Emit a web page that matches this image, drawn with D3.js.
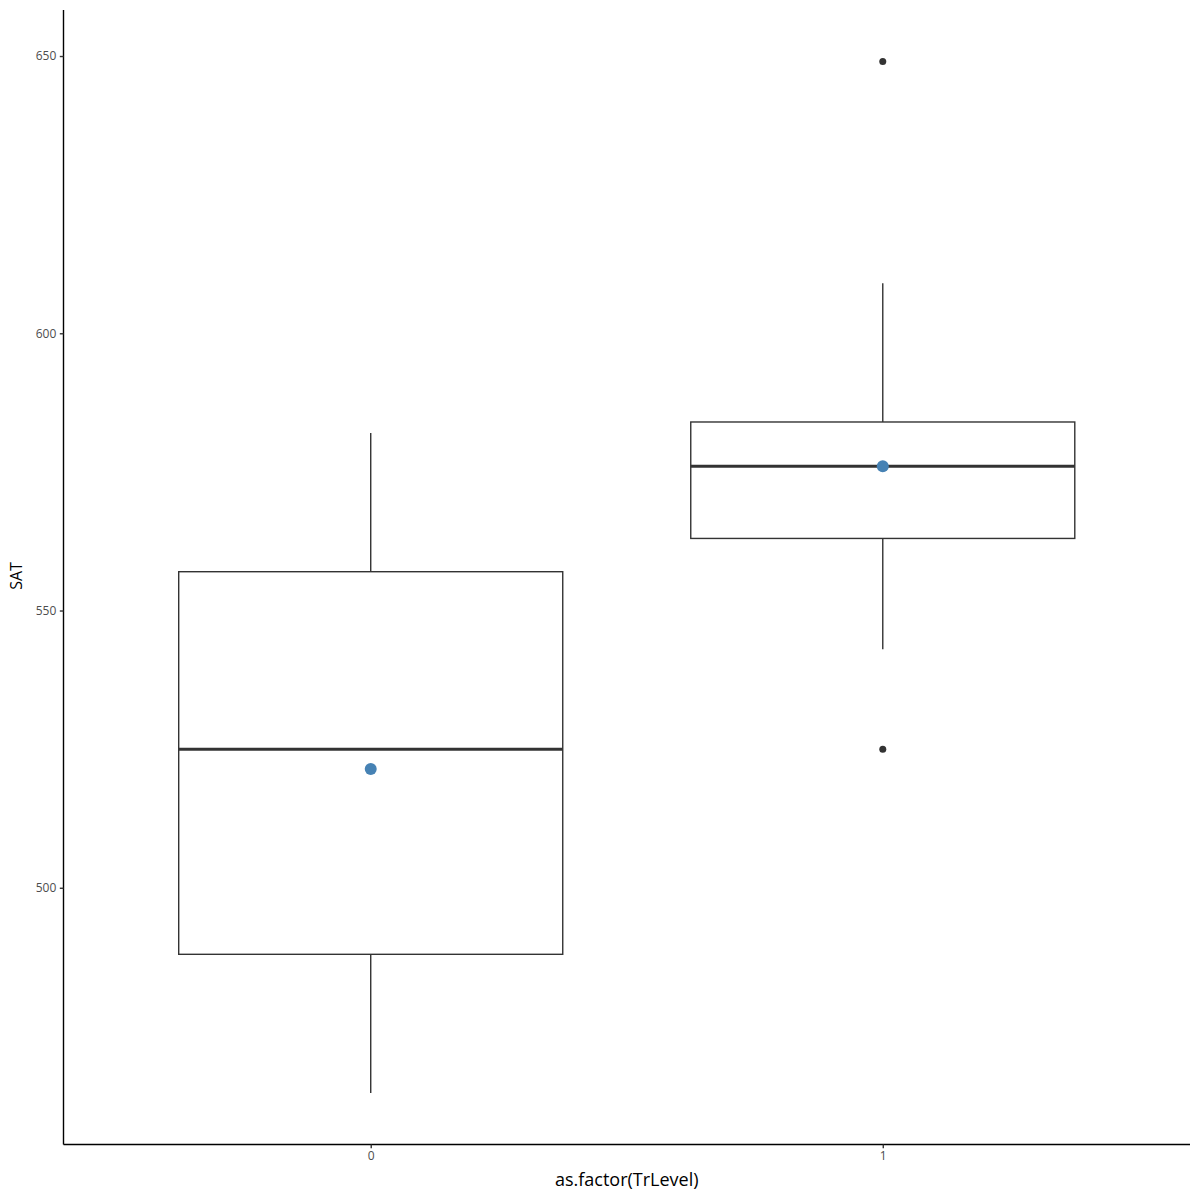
<!DOCTYPE html>
<html><head><meta charset="utf-8">
<script src="https://cdn.jsdelivr.net/npm/d3@7"></script>
<style>body{margin:0;background:#fff}</style>
</head><body>
<svg id="c" width="1200" height="1200"></svg>
<script>
const categories = ["0", "1"];
const lowerWhisker = [463, 543];
const q1 = [488, 563];
const medians = [525, 576];
const q3 = [557, 584];
const upperWhisker = [582, 609];
const means = [521.4, 576];
const outliers = [[], [649, 525]];
const yTicks = [500, 550, 600, 650];

(function () {
const svg = d3.select("#c");
const pLeft = 63.5, pRight = 1190, pTop = 10, pBottom = 1144.5;
const font = "'Open Sans', 'Noto Sans', sans-serif";

const y = d3.scaleLinear().domain([453.7, 658.3]).range([pBottom, pTop]);
const xUnit = d3.scaleLinear().domain([0.4, 2.6]).range([pLeft, pRight]);
const x = c => xUnit(categories.indexOf(c) + 1);
const halfW = (xUnit(1.375) - xUnit(1));

const g = svg.append("g");
categories.forEach((c, i) => {
  const cx = x(c);
  g.append("line").attr("x1", cx).attr("x2", cx).attr("y1", y(q3[i])).attr("y2", y(upperWhisker[i]))
    .attr("stroke", "#333").attr("stroke-width", 1.4);
  g.append("line").attr("x1", cx).attr("x2", cx).attr("y1", y(q1[i])).attr("y2", y(lowerWhisker[i]))
    .attr("stroke", "#333").attr("stroke-width", 1.4);
  g.append("rect").attr("x", cx - halfW).attr("width", 2 * halfW)
    .attr("y", y(q3[i])).attr("height", y(q1[i]) - y(q3[i]))
    .attr("fill", "#fff").attr("stroke", "#333").attr("stroke-width", 1.4);
  g.append("line").attr("x1", cx - halfW).attr("x2", cx + halfW).attr("y1", y(medians[i])).attr("y2", y(medians[i]))
    .attr("stroke", "#333").attr("stroke-width", 3);
  outliers[i].forEach(v => {
    g.append("circle").attr("cx", cx).attr("cy", y(v)).attr("r", 3.5).attr("fill", "#333");
  });
  g.append("circle").attr("cx", cx).attr("cy", y(means[i])).attr("r", 6).attr("fill", "steelblue");
});

const yAxis = svg.append("g").attr("transform", `translate(${pLeft},0)`)
  .call(d3.axisLeft(y).tickValues(yTicks).tickSize(3.7).tickPadding(3.5));
yAxis.select(".domain").attr("d", `M0,${pTop}V${pBottom}`).attr("stroke", "#000").attr("stroke-width", 1.4);
yAxis.selectAll(".tick line").attr("stroke", "#333").attr("stroke-width", 1.4);
yAxis.selectAll(".tick text").attr("fill", "#4d4d4d").style("font-family", font).style("font-size", "12px");

const xAxis = svg.append("g").attr("transform", `translate(0,${pBottom})`)
  .call(d3.axisBottom(xUnit).tickValues([1, 2]).tickFormat(d => categories[d - 1]).tickSize(3.7).tickPadding(3.5));
xAxis.select(".domain").attr("d", `M${pLeft},0H${pRight}`).attr("stroke", "#000").attr("stroke-width", 1.4);
xAxis.selectAll(".tick line").attr("stroke", "#333").attr("stroke-width", 1.4);
xAxis.selectAll(".tick text").attr("fill", "#4d4d4d").style("font-family", font).style("font-size", "12px");

svg.append("text").attr("x", (pLeft + pRight) / 2).attr("y", 1186).attr("text-anchor", "middle")
  .style("font-family", font).style("font-size", "18px").attr("fill", "#000").text("as.factor(TrLevel)");
svg.append("text").attr("transform", `translate(22,576) rotate(-90)`).attr("text-anchor", "middle")
  .style("font-family", font).style("font-size", "16px").attr("fill", "#000").text("SAT");
})();
</script>
</body></html>
